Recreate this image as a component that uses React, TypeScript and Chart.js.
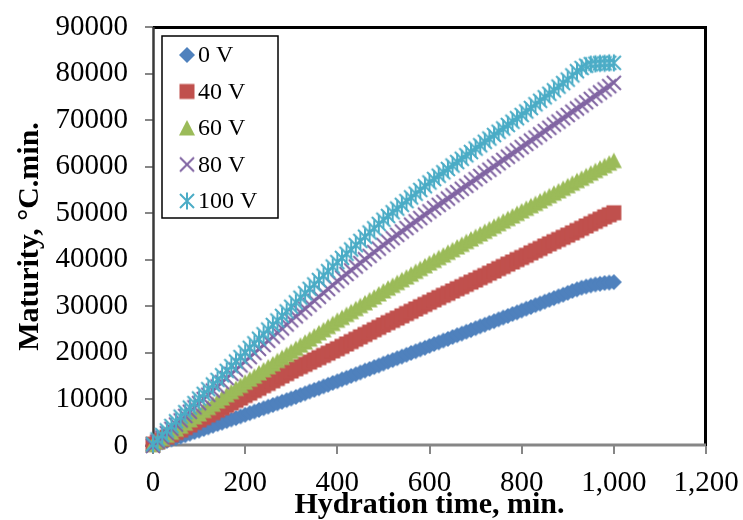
import React, { useEffect, useRef } from 'react';
import { Chart, registerables } from 'chart.js';

Chart.register(...registerables);

const TIME = [
  0, 10, 20, 30, 40, 50, 60, 70, 80, 90,
  100, 110, 120, 130, 140, 150, 160, 170, 180, 190,
  200, 210, 220, 230, 240, 250, 260, 270, 280, 290,
  300, 310, 320, 330, 340, 350, 360, 370, 380, 390,
  400, 410, 420, 430, 440, 450, 460, 470, 480, 490,
  500, 510, 520, 530, 540, 550, 560, 570, 580, 590,
  600, 610, 620, 630, 640, 650, 660, 670, 680, 690,
  700, 710, 720, 730, 740, 750, 760, 770, 780, 790,
  800, 810, 820, 830, 840, 850, 860, 870, 880, 890,
  900, 910, 920, 930, 940, 950, 960, 970, 980, 990,
  1000,
];

const V0 = [
  200, 500, 800, 1100, 1400, 1700, 2000, 2300, 2650, 3000,
  3300, 3650, 4000, 4350, 4700, 5000, 5350, 5700, 6000, 6350,
  6700, 7050, 7400, 7750, 8100, 8450, 8800, 9150, 9500, 9850,
  10200, 10550, 10950, 11300, 11700, 12050, 12400, 12800, 13150, 13550,
  13900, 14300, 14650, 15050, 15400, 15800, 16200, 16550, 16950, 17300,
  17700, 18100, 18450, 18850, 19200, 19600, 20000, 20350, 20750, 21100,
  21500, 21900, 22250, 22650, 23000, 23400, 23800, 24150, 24550, 24900,
  25300, 25700, 26050, 26450, 26800, 27200, 27600, 27950, 28350, 28700,
  29100, 29500, 29850, 30250, 30600, 31000, 31400, 31750, 32150, 32500,
  32900, 33300, 33650, 34000, 34250, 34500, 34700, 34850, 35000, 35100,
  35200,
];

const V40 = [
  400, 900, 1400, 1900, 2400, 2900, 3400, 3950, 4500, 5050,
  5600, 6100, 6650, 7150, 7700, 8200, 8750, 9250, 9800, 10300,
  10850, 11350, 11900, 12400, 12950, 13450, 14000, 14500, 15050, 15550,
  16100, 16580, 17060, 17540, 18020, 18500, 18980, 19460, 19940, 20420,
  20900, 21410, 21920, 22430, 22940, 23450, 23960, 24470, 24980, 25490,
  26000, 26490, 26980, 27470, 27960, 28450, 28940, 29430, 29920, 30410,
  30900, 31390, 31880, 32370, 32810, 33300, 33790, 34230, 34720, 35210,
  35650, 36160, 36620, 37130, 37590, 38100, 38560, 39070, 39530, 40040,
  40500, 40970, 41490, 41960, 42430, 42950, 43420, 43890, 44360, 44830,
  45300, 45790, 46280, 46770, 47260, 47750, 48240, 48730, 49220, 49660,
  50100,
];

const V60 = [
  300, 950, 1600, 2300, 2950, 3600, 4250, 4900, 5600, 6250,
  6900, 7600, 8250, 8950, 9650, 10300, 11000, 11650, 12350, 13000,
  13700, 14350, 15000, 15700, 16350, 17000, 17650, 18350, 19000, 19650,
  20300, 20950, 21650, 22300, 22950, 23650, 24300, 24950, 25650, 26300,
  27000, 27600, 28250, 28850, 29500, 30150, 30750, 31400, 32000, 32650,
  33300, 33900, 34500, 35100, 35700, 36300, 36900, 37500, 38100, 38700,
  39300, 39850, 40450, 41000, 41600, 42150, 42750, 43300, 43900, 44450,
  45000, 45550, 46100, 46650, 47200, 47750, 48300, 48850, 49400, 49950,
  50500, 51050, 51600, 52100, 52650, 53200, 53750, 54300, 54800, 55350,
  55900, 56450, 57000, 57500, 58050, 58600, 59150, 59700, 60200, 60750,
  61300,
];

const V80 = [
  0, 900, 1850, 2750, 3700, 4600, 5500, 6450, 7350, 8300,
  9200, 10100, 11000, 11900, 12800, 13700, 14600, 15500, 16400, 17300,
  18200, 19100, 19950, 20850, 21700, 22600, 23500, 24350, 25250, 26100,
  27000, 27850, 28700, 29500, 30350, 31200, 32050, 32900, 33700, 34550,
  35400, 36200, 36950, 37750, 38550, 39300, 40100, 40850, 41650, 42400,
  43200, 43900, 44650, 45350, 46100, 46800, 47550, 48250, 48950, 49700,
  50400, 51100, 51800, 52450, 53150, 53850, 54550, 55250, 55900, 56600,
  57300, 58000, 58700, 59350, 60050, 60750, 61450, 62150, 62800, 63500,
  64200, 64900, 65600, 66250, 66950, 67650, 68350, 69050, 69700, 70400,
  71100, 71800, 72500, 73150, 73850, 74550, 75250, 75950, 76600, 77300,
  78000,
];

const V100 = [
  400, 1400, 2350, 3350, 4300, 5300, 6300, 7250, 8250, 9200,
  10200, 11200, 12200, 13200, 14200, 15200, 16150, 17150, 18150, 19100,
  20100, 21100, 22050, 23050, 24000, 25000, 26000, 26950, 27950, 28900,
  29900, 30850, 31850, 32800, 33750, 34700, 35650, 36600, 37550, 38550,
  39500, 40400, 41300, 42200, 43150, 44050, 44950, 45850, 46750, 47700,
  48600, 49400, 50200, 51000, 51800, 52600, 53400, 54200, 55000, 55800,
  56600, 57350, 58050, 58800, 59500, 60250, 61000, 61700, 62450, 63150,
  63900, 64600, 65350, 66050, 66800, 67500, 68200, 68950, 69650, 70400,
  71100, 71850, 72600, 73400, 74150, 74900, 75650, 76400, 77200, 77950,
  78700, 79600, 80500, 81200, 81700, 82000, 82100, 82200, 82200, 82300,
  82300,
];

const SERIES_LABELS = ['0 V', '40 V', '60 V', '80 V', '100 V'];
const SERIES_VALUES = [V0, V40, V60, V80, V100];
const SERIES_COLORS = ['#4F81BD', '#C0504D', '#9BBB59', '#8064A2', '#4BACC6'];
const SERIES_MARKERS = ['diamond', 'square', 'triangle', 'x', 'star'];

const X_TITLE = 'Hydration time, min.';
const Y_TITLE = 'Maturity, °C.min.';

const SERIF = '"Liberation Serif", "Times New Roman", serif';

function makeMarker(kind: string, color: string): HTMLCanvasElement {
  const c = document.createElement('canvas');
  c.width = 20;
  c.height = 20;
  const g = c.getContext('2d') as CanvasRenderingContext2D;
  g.fillStyle = color;
  g.strokeStyle = color;
  g.lineWidth = 2;
  g.beginPath();
  if (kind === 'diamond') {
    g.moveTo(10, 2);
    g.lineTo(18, 10);
    g.lineTo(10, 18);
    g.lineTo(2, 10);
    g.closePath();
    g.fill();
  } else if (kind === 'square') {
    g.fillRect(2.5, 2.5, 15, 15);
  } else if (kind === 'triangle') {
    g.moveTo(10, 2);
    g.lineTo(18, 17.5);
    g.lineTo(2, 17.5);
    g.closePath();
    g.fill();
  } else if (kind === 'x') {
    g.moveTo(3, 3);
    g.lineTo(17, 17);
    g.moveTo(17, 3);
    g.lineTo(3, 17);
    g.stroke();
  } else {
    g.moveTo(3, 3);
    g.lineTo(17, 17);
    g.moveTo(17, 3);
    g.lineTo(3, 17);
    g.moveTo(10, 1.5);
    g.lineTo(10, 18.5);
    g.stroke();
  }
  return c;
}

const zeroPadding = (s: any) => {
  s.paddingTop = 0;
  s.paddingBottom = 0;
  s.paddingLeft = 0;
  s.paddingRight = 0;
};

export default function App() {
  const canvasRef = useRef<HTMLCanvasElement | null>(null);

  useEffect(() => {
    document.body.style.margin = '0';
    const canvas = canvasRef.current;
    if (!canvas) return;

    const markers = SERIES_MARKERS.map((m, i) => makeMarker(m, SERIES_COLORS[i]));

    const framePlugin = {
      id: 'frame',
      beforeDatasetsDraw(chart: any) {
        const { ctx, chartArea: a } = chart;
        ctx.save();
        ctx.lineCap = 'butt';
        ctx.strokeStyle = '#000000';
        ctx.lineWidth = 3;
        ctx.beginPath();
        ctx.moveTo(a.left, a.top + 0.5);
        ctx.lineTo(a.right - 0.5, a.top + 0.5);
        ctx.lineTo(a.right - 0.5, a.bottom);
        ctx.stroke();
        ctx.strokeStyle = '#3a3a3a';
        ctx.lineWidth = 2.5;
        ctx.beginPath();
        ctx.moveTo(a.left + 0.5, a.top);
        ctx.lineTo(a.left + 0.5, a.bottom);
        ctx.stroke();
        ctx.strokeStyle = '#868686';
        ctx.lineWidth = 3;
        ctx.beginPath();
        ctx.moveTo(a.left, a.bottom - 1);
        ctx.lineTo(a.right, a.bottom - 1);
        ctx.stroke();
        ctx.restore();
      },
      afterDatasetsDraw(chart: any) {
        const { ctx } = chart;
        ctx.save();
        const bx = 162, by = 36, bw = 116, bh = 182;
        ctx.fillStyle = '#ffffff';
        ctx.fillRect(bx, by, bw, bh);
        ctx.strokeStyle = '#000000';
        ctx.lineWidth = 1.5;
        ctx.strokeRect(bx, by, bw, bh);
        ctx.font = `24px ${SERIF}`;
        ctx.fillStyle = '#000000';
        ctx.textAlign = 'left';
        ctx.textBaseline = 'middle';
        SERIES_LABELS.forEach((lab, i) => {
          const cy = 55 + i * 36.5;
          const mk = markers[i];
          ctx.drawImage(mk, 187 - mk.width / 2, cy - mk.height / 2);
          ctx.fillText(lab, 198, cy + 1);
        });
        ctx.font = `bold 30px ${SERIF}`;
        ctx.textAlign = 'center';
        ctx.textBaseline = 'alphabetic';
        const a = chart.chartArea;
        ctx.fillText(X_TITLE, (a.left + a.right) / 2, 513);
        ctx.save();
        ctx.translate(38, (a.top + a.bottom) / 2);
        ctx.rotate(-Math.PI / 2);
        ctx.fillText(Y_TITLE, 0, 0);
        ctx.restore();
        ctx.restore();
      },
    };

    const datasets = SERIES_VALUES.map((vals, i) => ({
      label: SERIES_LABELS[i],
      data: TIME.map((t, k) => ({ x: t, y: vals[k] })),
      pointStyle: markers[i],
      pointRadius: 8,
      pointHoverRadius: 8,
      borderColor: SERIES_COLORS[i],
      backgroundColor: SERIES_COLORS[i],
      showLine: false,
      order: SERIES_VALUES.length - i,
      clip: false as any,
    }));

    const chart = new Chart(canvas, {
      type: 'scatter',
      data: { datasets },
      options: {
        responsive: false,
        animation: false,
        devicePixelRatio: 1,
        layout: { padding: { top: 27, right: 37, left: 0, bottom: 0 } },
        plugins: {
          legend: { display: false },
          tooltip: { enabled: false },
        },
        scales: {
          x: {
            type: 'linear',
            min: 0,
            max: 1200,
            ticks: {
              stepSize: 200,
              autoSkip: false,
              maxRotation: 0,
              padding: 12,
              color: '#000000',
              font: { family: SERIF, size: 29 },
              callback: (v: any) => Number(v).toLocaleString('en-US'),
            },
            grid: {
              display: true,
              drawOnChartArea: false,
              drawTicks: true,
              tickLength: 8,
              color: '#868686',
              lineWidth: 2,
            },
            border: { display: false },
            afterFit: (s: any) => {
              s.height = 74;
              zeroPadding(s);
            },
          },
          y: {
            type: 'linear',
            min: 0,
            max: 90000,
            ticks: {
              stepSize: 10000,
              padding: 17,
              color: '#000000',
              font: { family: SERIF, size: 29 },
              callback: (v: any) => String(v),
            },
            grid: {
              display: true,
              drawOnChartArea: false,
              drawTicks: true,
              tickLength: 8,
              color: '#868686',
              lineWidth: 2,
            },
            border: { display: false },
            afterFit: (s: any) => {
              s.width = 153;
              zeroPadding(s);
            },
          },
        },
      },
      plugins: [framePlugin],
    });

    return () => {
      chart.destroy();
    };
  }, []);

  return (
    <div style={{ width: 743, height: 520, position: 'relative', background: '#ffffff' }}>
      <canvas ref={canvasRef} width={743} height={520} style={{ display: 'block', width: 743, height: 520 }} />
    </div>
  );
}
